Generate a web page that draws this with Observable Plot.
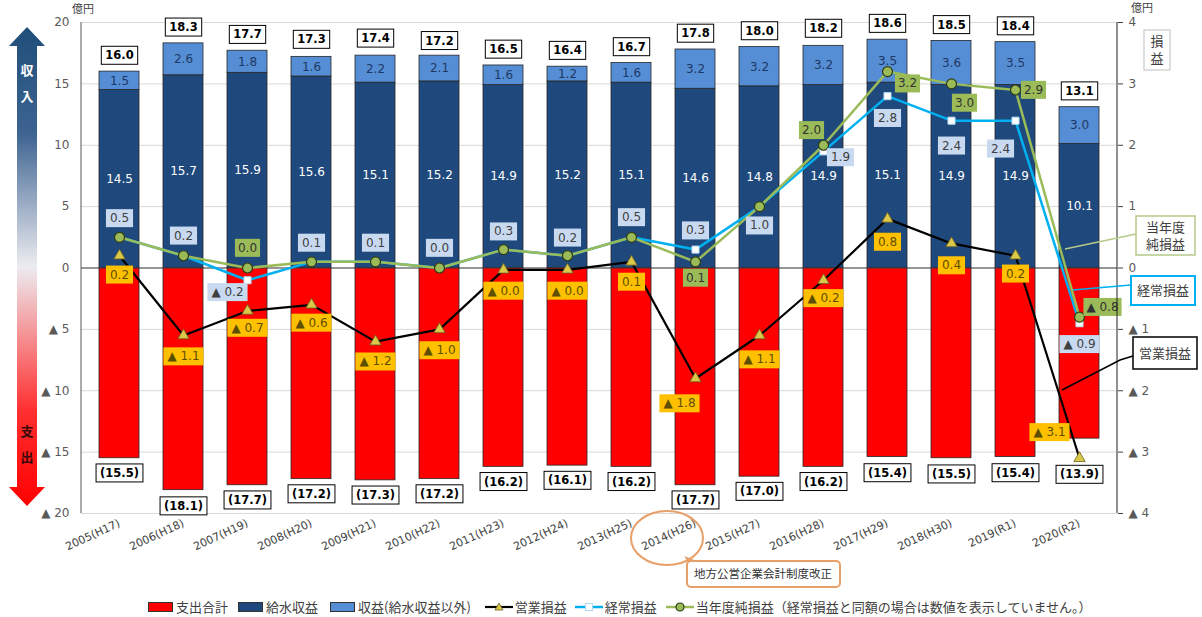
<!DOCTYPE html>
<html><head><meta charset="utf-8">
<script src="https://cdn.jsdelivr.net/npm/d3@7"></script>
<script src="https://cdn.jsdelivr.net/npm/@observablehq/plot@0.6"></script>
<style>
body{margin:0;background:#fff;}
#wrap{position:relative;width:1202px;height:617px;overflow:hidden;}
#legend{position:absolute;left:148px;top:597px;display:flex;align-items:center;font-family:"Noto Sans CJK JP",sans-serif;font-size:13px;color:#404040;white-space:nowrap;}
.sw{display:inline-block;width:23px;height:8px;border:1px solid #333;margin-right:3px;}
.item{display:flex;align-items:center;}
.item svg{margin-right:2px;}
</style></head><body><div id="wrap"></div>
<script>
// ---- data (億円) ----
const years = ["2005(H17)","2006(H18)","2007(H19)","2008(H20)","2009(H21)","2010(H22)","2011(H23)","2012(H24)","2013(H25)","2014(H26)","2015(H27)","2016(H28)","2017(H29)","2018(H30)","2019(R1)","2020(R2)"];
const totalRevenue   = [16.0,18.3,17.7,17.3,17.4,17.2,16.5,16.4,16.7,17.8,18.0,18.2,18.6,18.5,18.4,13.1];
const waterRevenue   = [14.5,15.7,15.9,15.6,15.1,15.2,14.9,15.2,15.1,14.6,14.8,14.9,15.1,14.9,14.9,10.1];
const otherRevenue   = [1.5,2.6,1.8,1.6,2.2,2.1,1.6,1.2,1.6,3.2,3.2,3.2,3.5,3.6,3.5,3.0];
const expenditure    = [15.5,18.1,17.7,17.2,17.3,17.2,16.2,16.1,16.2,17.7,17.0,16.2,15.4,15.5,15.4,13.9];
const operatingProfit= [0.2,-1.1,-0.7,-0.6,-1.2,-1.0,-0.03,-0.03,0.1,-1.8,-1.1,-0.2,0.8,0.4,0.2,-3.1];
const ordinaryProfit = [0.5,0.2,-0.2,0.1,0.1,0.0,0.3,0.2,0.5,0.3,1.0,1.9,2.8,2.4,2.4,-0.9];
const netProfit      = [0.5,0.2,0.0,0.1,0.1,0.0,0.3,0.2,0.5,0.1,1.0,2.0,3.2,3.0,2.9,-0.8];
const seriesNames = ["支出合計","給水収益","収益(給水収益以外)"];
const seriesColors = ["#ff0000","#1f497d","#558ed5"];
const leftTicks = [-20,-15,-10,-5,0,5,10,15,20];

// ---- label placement (layout only) ----
const opOffsets  = [[0,19],[0,21],[0,17],[0,18],[0,20],[0,21],[0,21],[0,21],[0,20],[-16,25],[0,24],[0,18],[0,23],[0,22],[0,18],[-30,-26]];
const ordOffsets = [[0,-19],[0,-20],[-20,12],[0,-19],[0,-19],[0,-20],[0,-18],[0,-18],[0,-20],[0,-19],[0,19],[17,6],[0,22],[0,25],[-15,28],[0,21]];
const netOffsets = {2:[0,-20],9:[0,16],11:[-12,-15],12:[20,12],13:[13,19],14:[18,0],15:[23,-10]};
const expDy = [15,16,15,15,15,15,15,15,15,15,15,15,16,16,16,36];

const K = 5; // right axis (損益) to left axis (収支) ratio
const fmt = v => v < 0 ? "▲ " + Math.abs(v).toFixed(1) : v.toFixed(1);
const tickFmt = v => v < 0 ? "▲ " + Math.abs(v) : String(v);

const idx = d3.range(years.length);
const rows = idx.map(i => ({i, year: years[i], total: totalRevenue[i], water: waterRevenue[i], other: otherRevenue[i], exp: expenditure[i], op: operatingProfit[i], ord: ordinaryProfit[i], net: netProfit[i]}));
const barRows = idx.flatMap(i => [
  {year: years[i], series: seriesNames[0], value: -expenditure[i]},
  {year: years[i], series: seriesNames[1], value: waterRevenue[i]},
  {year: years[i], series: seriesNames[2], value: otherRevenue[i]}
]);

const marks = [
  Plot.gridY(leftTicks, {stroke: "#d9d9d9", strokeOpacity: 1}),
  Plot.barY(barRows, {x: "year", y: "value", fill: "series", stroke: "#262626", strokeWidth: 0.8}),
  Plot.ruleY([0], {stroke: "#404040", strokeWidth: 1}),
  Plot.axisY(leftTicks, {anchor: "left", tickSize: 0, tickPadding: 12, tickFormat: tickFmt, fontSize: 12, fill: "#595959"}),
  Plot.axisY(leftTicks, {anchor: "right", tickSize: 5, tickPadding: 6, tickFormat: d => tickFmt(d / K), fontSize: 12, fill: "#595959", stroke: "#404040"}),
  Plot.axisX({tickRotate: -25, tickSize: 0, tickPadding: 9, fontSize: 11, fill: "#404040"}),
  // segment values
  Plot.text(rows, {x: "year", y: d => d.water / 2, text: d => d.water.toFixed(1), fill: "white", fontSize: 12}),
  Plot.text(rows, {x: "year", y: d => d.water + d.other / 2, text: d => d.other.toFixed(1), fill: "#1f3864", fontSize: 12}),
  Plot.text(rows, {x: "year", y: "total", text: d => d.total.toFixed(1), dy: -16, fontWeight: "bold", fontSize: 11.5, fill: "#000", className: "lbl-box"}),
  // lines
  Plot.line(rows, {x: "year", y: d => d.op * K, stroke: "#000", strokeWidth: 2.2}),
  Plot.line(rows, {x: "year", y: d => d.ord * K, stroke: "#00b0f0", strokeWidth: 2.5}),
  Plot.line(rows, {x: "year", y: d => d.net * K, stroke: "#9bbb59", strokeWidth: 2.5}),
  Plot.dot(rows, {x: "year", y: d => d.op * K, symbol: "triangle", r: 4.2, fill: "#d9c84a", stroke: "#6b6020", strokeWidth: 0.8}),
  Plot.dot(rows, {x: "year", y: d => d.ord * K, symbol: "square", r: 4, fill: "#fff", stroke: "#b0d8f0", strokeWidth: 1}),
  Plot.dot(rows, {x: "year", y: d => d.net * K, symbol: "circle", r: 5, fill: "#9bbb59", stroke: "#2d3a12", strokeWidth: 1.2}),
  // expenditure totals
  ...idx.map(i => Plot.text([rows[i]], {x: "year", y: d => -d.exp, text: d => "(" + d.exp.toFixed(1) + ")", dy: expDy[i], fontWeight: "bold", fontSize: 11.5, fill: "#000", className: "lbl-box"})),
  // profit labels
  ...idx.map(i => Plot.text([rows[i]], {x: "year", y: d => d.op * K, text: d => fmt(d.op), dx: opOffsets[i][0], dy: opOffsets[i][1], fontSize: 12, fill: "#5e4e00", className: "lbl-op"})),
  ...idx.map(i => Plot.text([rows[i]], {x: "year", y: d => d.ord * K, text: d => fmt(d.ord), dx: ordOffsets[i][0], dy: ordOffsets[i][1], fontSize: 12, fill: "#404040", className: "lbl-ord"})),
  ...idx.filter(i => netProfit[i] !== ordinaryProfit[i]).map(i => Plot.text([rows[i]], {x: "year", y: d => d.net * K, text: d => fmt(d.net), dx: netOffsets[i][0], dy: netOffsets[i][1], fontSize: 12, fill: "#333", className: "lbl-net"}))
];

const svg = Plot.plot({
  width: 1202, height: 597,
  marginLeft: 81, marginRight: 85, marginTop: 22, marginBottom: 84,
  style: {fontFamily: "DejaVu Sans, Verdana, sans-serif", fontSize: "12px", background: "#fff"},
  x: {domain: years, paddingInner: 0.38, paddingOuter: 0.19, label: null},
  y: {domain: [-20, 20], label: null},
  color: {domain: seriesNames, range: seriesColors},
  marks
});
document.getElementById("wrap").appendChild(svg);

// boxes behind labels
function boxes(cls, fill, stroke, sw, px, py) {
  d3.select(svg).selectAll(`g.${cls} text`).each(function () {
    const b = this.getBBox();
    d3.select(this.parentNode).insert("rect", () => this)
      .attr("transform", this.getAttribute("transform"))
      .attr("x", b.x - px).attr("y", b.y - py)
      .attr("width", b.width + 2 * px).attr("height", b.height + 2 * py)
      .attr("fill", fill).attr("stroke", stroke).attr("stroke-width", sw);
  });
}
boxes("lbl-box", "#fff", "#000", 1, 4, 2);
boxes("lbl-op", "#ffc000", "none", 0, 4, 2);
boxes("lbl-ord", "#c9daf0", "none", 0, 4, 2);
boxes("lbl-net", "#9bbb59", "none", 0, 3, 2);

// decorations
const xs = svg.scale("x"), ys = svg.scale("y");
const S = d3.select(svg);
const jp = "Noto Sans CJK JP, sans-serif";
const xL = 81, xR = 1202 - 85, yT = ys.apply(20), yB = ys.apply(-20);
S.append("line").attr("x1", xL).attr("x2", xL).attr("y1", yT).attr("y2", yB).attr("stroke", "#595959");
S.append("line").attr("x1", xR).attr("x2", xR).attr("y1", yT).attr("y2", yB).attr("stroke", "#222");
S.append("text").attr("x", 83).attr("y", 13).text("億円").attr("font-family", jp).attr("font-size", 11).attr("fill", "#404040");
S.append("text").attr("x", 1142).attr("y", 12).text("億円").attr("font-family", jp).attr("font-size", 11).attr("fill", "#404040");
S.append("rect").attr("x", 1144).attr("y", 30).attr("width", 26).attr("height", 40).attr("fill", "#fff").attr("stroke", "#bfbfbf");
["損", "益"].forEach((c, k) => S.append("text").attr("x", 1157).attr("y", 46 + k * 17).attr("text-anchor", "middle").text(c).attr("font-family", jp).attr("font-size", 13).attr("fill", "#404040"));

// left gradient arrow
const defs = S.append("defs");
const g = defs.append("linearGradient").attr("id", "arrowGrad").attr("x1", 0).attr("y1", 0).attr("x2", 0).attr("y2", 1);
[[0, "#1f4e79"], [0.22, "#3d6391"], [0.5, "#ececf0"], [0.8, "#ff3030"], [1, "#ff0000"]].forEach(([o, c]) => g.append("stop").attr("offset", o).attr("stop-color", c));
S.append("path").attr("fill", "url(#arrowGrad)")
  .attr("d", "M27,27 L45,46 L37,46 L37,487 L45,487 L27,506 L9,487 L17,487 L17,46 L9,46 Z");
[["収", 75, "#fff"], ["入", 101, "#fff"], ["支", 436, "#3a0a0a"], ["出", 462, "#3a0a0a"]].forEach(([c, y, f]) =>
  S.append("text").attr("x", 27).attr("y", y).attr("text-anchor", "middle").text(c).attr("font-family", jp).attr("font-weight", "bold").attr("font-size", 13).attr("fill", f));

// right callouts
const xc20 = xs.apply(years[15]) + xs.bandwidth / 2;
function callout(lines, x, y, w, h, stroke, sw, path) {
  S.append("path").attr("d", path).attr("fill", "none").attr("stroke", stroke).attr("stroke-width", 1.5);
  S.append("rect").attr("x", x).attr("y", y).attr("width", w).attr("height", h).attr("fill", "#fff").attr("stroke", stroke).attr("stroke-width", sw);
  lines.forEach((t, k) => S.append("text").attr("x", x + w / 2).attr("y", y + h / 2 + (k - (lines.length - 1) / 2) * 17).attr("dy", "0.36em")
    .attr("text-anchor", "middle").text(t).attr("font-family", jp).attr("font-size", 13).attr("fill", "#404040"));
}
callout(["当年度", "純損益"], 1136, 216, 59, 39, "#b5c98a", 1.5, `M${xc20 - 14},249 L1136,234`);
callout(["経常損益"], 1131, 276, 64, 29, "#00b0f0", 2, `M${xc20 - 6},290 L1131,285`);
callout(["営業損益"], 1133, 337, 64, 32, "#000", 1.5, `M${xc20 - 17},390 L1120,360 L1133,356`);

// 2014 annotation
const xc14 = xs.apply(years[9]) + xs.bandwidth / 2;
const ann = "#e8a06a";
S.append("ellipse").attr("cx", xc14 - 28).attr("cy", 538).attr("rx", 36).attr("ry", 27).attr("fill", "none").attr("stroke", ann).attr("stroke-width", 2);
S.append("path").attr("d", "M684,556 L700,562 L688,562 Z").attr("fill", ann);
S.append("rect").attr("x", 687).attr("y", 561).attr("width", 153).attr("height", 26).attr("rx", 4).attr("fill", "#fff").attr("stroke", ann).attr("stroke-width", 2);
S.append("text").attr("x", 763).attr("y", 574).attr("dy", "0.36em").attr("text-anchor", "middle").text("地方公営企業会計制度改正").attr("font-family", jp).attr("font-size", 11.5).attr("fill", "#333");

// legend
const lg = document.createElement("div");
lg.id = "legend";
const sym = {
  tri: '<svg width="28" height="12"><line x1="0" y1="6" x2="28" y2="6" stroke="#000" stroke-width="2.2"/><path d="M14,2 L18,9 L10,9 Z" fill="#d9c84a" stroke="#6b6020" stroke-width="0.8"/></svg>',
  sq: '<svg width="28" height="12"><line x1="0" y1="6" x2="28" y2="6" stroke="#00b0f0" stroke-width="2.5"/><rect x="10.5" y="2.5" width="7" height="7" fill="#fff" stroke="#b0d8f0"/></svg>',
  ci: '<svg width="28" height="12"><line x1="0" y1="6" x2="28" y2="6" stroke="#9bbb59" stroke-width="2.5"/><circle cx="14" cy="6" r="4" fill="#9bbb59" stroke="#2d3a12" stroke-width="1.2"/></svg>'
};
const gaps = [10, 12, 14, 8, 9, 0];
const items = seriesNames.map((n, k) => `<span class="sw" style="background:${seriesColors[k]}"></span>${n}`)
  .concat([`${sym.tri}営業損益`, `${sym.sq}経常損益`, `${sym.ci}当年度純損益（経常損益と同額の場合は数値を表示していません。）`]);
lg.innerHTML = items.map((h, k) => `<span class="item" style="margin-right:${gaps[k]}px">${h}</span>`).join("");
document.getElementById("wrap").appendChild(lg);
</script>
</body></html>
